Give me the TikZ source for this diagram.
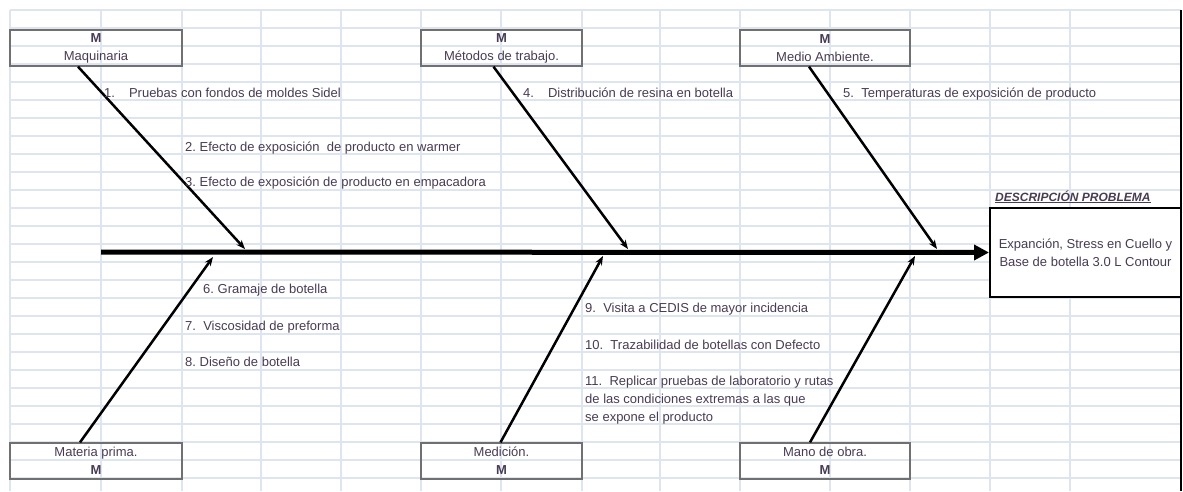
\documentclass[tikz,border=0pt]{standalone}
\usepackage{fontspec}
\setmainfont{Liberation Sans}
\usetikzlibrary{positioning, calc, arrows.meta}
\definecolor{gridblue}{RGB}{222,228,240}
\definecolor{inkgray}{RGB}{72,60,84}
\definecolor{boxgray}{RGB}{112,112,112}

\begin{document}
\begin{tikzpicture}[x=1pt, y=-1pt,
		catbox/.style = {draw=boxgray, line width=1.3pt, minimum height=36pt, inner sep=0pt, align=center, text=inkgray, font=\fontsize{13}{18}\selectfont},
		cause/.style = {anchor=base west, inner sep=0pt, align=left, text=inkgray, font=\fontsize{13}{18}\selectfont},
		bone/.style = {line width=2.5pt, -{Stealth[length=9pt, width=7pt]}},
		spine/.style = {line width=5pt, -{Triangle[length=15pt, width=15pt]}}]
	\useasboundingbox (0,0) rectangle (1183,491);
	\fill[white] (0,0) rectangle (1183,491);
	\foreach \k in {0,...,26}
		\draw[gridblue, line width=1.5pt] (10,10+18*\k) -- (1181,10+18*\k);
	\foreach \gx in {10,101,182,261,341,421,501,582,660,740,830,910,990,1070}
		\draw[gridblue, line width=1.5pt] (\gx,10) -- (\gx,491);
	\draw[line width=2.5pt] (1181,10) -- (1181,491);

	\node[catbox, minimum width=172pt] (maq) at (96,48) {\textbf{M}\\Maquinaria};
	\node[catbox, minimum width=161pt] (met) at (501.5,48) {\textbf{M}\\Métodos de trabajo.};
	\node[catbox, minimum width=170pt] (amb) at (825,48) {\textbf{M}\\Medio Ambiente.};
	\node[catbox, minimum width=172pt] (mat) at (96,461) {Materia prima.\\\textbf{M}};
	\node[catbox, minimum width=161pt] (mdc) at (501.5,461) {Medición.\\\textbf{M}};
	\node[catbox, minimum width=170pt] (mob) at (825,461) {Mano de obra.\\\textbf{M}};

	\node[draw, line width=2pt, fill=white, minimum width=191pt, minimum height=89pt, inner sep=0pt, align=center, text=inkgray, font=\fontsize{13}{18}\selectfont] (desc) at (1085.5,252.5) {Expanción, Stress en Cuello y\\Base de botella 3.0 L Contour};
	\node[anchor=base west, inner sep=0pt, font=\fontsize{12}{14}\selectfont\bfseries\itshape, text=inkgray] (hdr) at (995,201) {\underline{DESCRIPCIÓN PROBLEMA}};

	\coordinate (tail) at (101,252);
	\draw[spine] (tail) -- (desc.west);

	\coordinate (t1) at (245,249);
	\coordinate (t2) at (628,249);
	\coordinate (t3) at (937,249);
	\coordinate (t4) at (213,257);
	\coordinate (t5) at (603,256);
	\coordinate (t6) at (915,256);
	\draw[bone] ([xshift=-18pt]maq.south) -- (t1);
	\draw[bone] ([xshift=-8pt]met.south) -- (t2);
	\draw[bone] ([xshift=-16pt]amb.south) -- (t3);
	\draw[bone] ([xshift=-16pt]mat.north) -- (t4);
	\draw[bone] ([xshift=-1pt]mdc.north) -- (t5);
	\draw[bone] ([xshift=-15pt]mob.north) -- (t6);

	\node[cause] (c1) at (104,97) {1.\hspace{14pt}Pruebas con fondos de moldes Sidel};
	\node[cause] (c2) at (185,151) {2.\ Efecto de exposición\ \ de producto en warmer};
	\node[cause] (c3) at (185,186) {3.\ Efecto de exposición de producto en empacadora};
	\node[cause] (c4) at (523,97) {4.\hspace{14pt}Distribución de resina en botella};
	\node[cause] (c5) at (843,97) {5.\ \ Temperaturas de exposición de producto};
	\node[cause] (c6) at (203,293) {6.\ Gramaje de botella};
	\node[cause] (c7) at (185,330) {7.\ \ Viscosidad de preforma};
	\node[cause] (c8) at (185,366) {8.\ Diseño de botella};
	\node[cause] (c9) at (585,312) {9.\ \ Visita a CEDIS de mayor incidencia};
	\node[cause] (c10) at (585,349) {10.\ \ Trazabilidad de botellas con Defecto};
	\node[cause] (c11) at (585,421) {11.\ \ Replicar pruebas de laboratorio y rutas\\de las condiciones extremas a las que\\se expone el producto};
\end{tikzpicture}
\end{document}
